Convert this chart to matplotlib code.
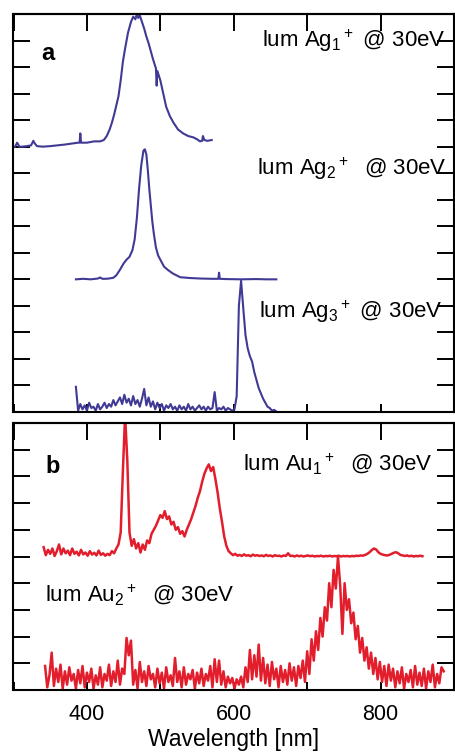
import numpy as np
import matplotlib.pyplot as plt

plt.rcParams['font.family'] = ['Liberation Sans', 'DejaVu Sans']
plt.rcParams['mathtext.default'] = 'regular'

# ---- panel a : silver clusters (offset traces, arb. units) ----
ag1_wl = [302, 305, 308, 312, 318, 324, 327, 329, 332, 340, 350, 360, 370, 380, 388,
          390, 391, 392, 400, 410, 418, 423, 427, 431, 434, 437, 440, 443, 446, 449,
          452, 456, 460, 463, 466, 468, 470, 472, 475, 478, 481, 484, 487, 490, 494,
          495, 496, 500, 504, 508, 513, 518, 524, 531, 538, 545, 550, 554, 557, 558,
          560, 564, 570]
ag1_int = [10.0, 10.15, 10.0, 10.0, 10.02, 10.05, 10.22, 10.12, 10.02, 10.0, 10.02, 10.05, 10.08, 10.12, 10.15,
           10.15, 10.5, 10.15, 10.15, 10.2, 10.2, 10.25, 10.4, 10.65, 10.9, 11.2, 11.55, 11.9, 12.5, 13.2,
           13.7, 14.3, 14.7, 14.9, 14.8, 15.0, 14.85, 14.95, 14.7, 14.45, 14.15, 13.9, 13.6, 13.3, 12.95,
           12.3, 12.85, 12.5, 12.0, 11.5, 11.15, 10.9, 10.65, 10.5, 10.4, 10.35, 10.28, 10.2, 10.22, 10.4,
           10.25, 10.22, 10.25]

ag2_wl = [385, 395, 405, 415, 418, 421, 425, 430, 436, 440, 445, 450, 454, 458, 462,
          465, 468, 471, 474, 477, 479, 481, 483, 485, 487, 489, 491, 494, 497, 500,
          505, 510, 517, 527, 540, 555, 570, 579, 580, 581, 590, 610, 630, 645, 658]
ag2_int = [5.0, 5.02, 5.0, 5.03, 5.07, 5.02, 5.02, 5.03, 5.06, 5.15, 5.36, 5.6, 5.74, 5.85, 6.1,
           6.5, 7.3, 8.4, 9.3, 9.85, 9.9, 9.7, 9.1, 8.4, 7.8, 7.2, 6.75, 6.2, 5.9, 5.74,
           5.48, 5.36, 5.22, 5.08, 5.05, 5.03, 5.02, 5.02, 5.25, 5.02, 5.01, 5.0, 5.01, 5.0, 5.0]

ag3_wl = np.arange(385, 659, 3)
ag3_int = [0.95, 0.05, 0.30, 0.10, 0.25, 0.05, 0.35, 0.15, 0.20, 0.05,   # 385
           0.30, 0.10, 0.20, 0.35, 0.15, 0.30, 0.20, 0.45, 0.25, 0.40,   # 415
           0.55, 0.30, 0.65, 0.35, 0.50, 0.25, 0.60, 0.30, 0.45, 0.20,   # 445
           0.50, 0.87, 0.25, 0.55, 0.20, 0.40, 0.10, 0.35, 0.15, 0.30,   # 475
           0.05, 0.25, 0.15, 0.30, 0.10, 0.20, 0.05, 0.25, 0.10, 0.20,   # 505
           0.05, 0.30, 0.10, 0.20, 0.05, 0.15, 0.25, 0.10, 0.20, 0.05,   # 535
           0.20, 0.10, 0.15, 0.75, 0.05, 0.15, 0.10, 0.20, 0.05, 0.15,   # 565
           0.10, 0.05, 0.10, 0.60, 4.00, 4.95, 3.90, 2.90, 2.40, 2.10,   # 595
           1.90, 1.50, 1.20, 0.90, 0.70, 0.50, 0.35, 0.20, 0.15, 0.05,   # 625
           0.08, 0.02]                                                   # 655

# ---- panel b : gold clusters ----
au1_wl = np.arange(341, 858, 3)
au1_int = [5.35, 5.05, 5.25, 5.10, 5.30, 5.02, 5.20, 5.45, 5.08, 5.30,   # 341
           5.12, 5.22, 5.05, 5.30, 5.10, 5.18, 5.04, 5.25, 5.08, 5.15,   # 371
           5.03, 5.20, 5.07, 5.14, 5.04, 5.22, 5.06, 5.12, 5.03, 5.10,   # 401
           5.05, 5.20, 5.12, 5.30, 5.45, 5.90, 8.20, 10.3, 8.60, 5.90,   # 431
           5.40, 5.65, 5.30, 5.50, 5.15, 5.45, 5.25, 5.60, 5.50, 5.85,   # 461
           6.00, 6.15, 6.35, 6.55, 6.45, 6.70, 6.40, 6.50, 6.20, 6.30,   # 491
           6.00, 6.10, 5.85, 5.95, 5.75, 6.00, 6.20, 6.40, 6.65, 6.90,   # 521
           7.20, 7.45, 7.80, 8.10, 8.30, 8.45, 8.20, 8.35, 7.90, 7.40,   # 551
           6.80, 6.30, 5.75, 5.40, 5.20, 5.12, 5.05, 5.10, 5.03, 5.06,   # 581
           5.02, 5.08, 5.03, 5.05, 5.01, 5.07, 5.03, 5.05, 5.02, 5.04,   # 611
           5.01, 5.06, 5.02, 5.04, 5.00, 5.05, 5.02, 5.03, 5.00, 5.04,   # 641
           5.02, 5.12, 5.02, 5.03, 5.00, 5.04, 5.01, 5.03, 5.00, 5.02,   # 671
           5.04, 5.01, 5.03, 5.00, 5.02, 5.01, 5.03, 5.00, 5.02, 5.01,   # 701
           5.03, 5.00, 5.02, 5.01, 5.03, 5.00, 5.02, 5.01, 5.02, 5.00,   # 731
           5.02, 5.01, 5.03, 5.02, 5.04, 5.03, 5.06, 5.10, 5.16, 5.24,   # 761
           5.30, 5.26, 5.16, 5.10, 5.07, 5.05, 5.04, 5.06, 5.10, 5.14,   # 791
           5.16, 5.12, 5.06, 5.04, 5.02, 5.04, 5.01, 5.03, 5.00, 5.02,   # 821
           5.01, 5.03, 5.01]                                             # 851

au2_wl = np.arange(343, 887, 3)
au2_int = [0.90, 0.10, 0.55, 1.40, 0.15, 0.80, 0.30, 0.95, 0.05, 0.70,   # 343
           0.20, 0.85, 0.35, 0.60, 0.05, 0.75, 0.25, 0.90, 0.10, 0.65,   # 373
           0.30, 0.80, 0.05, 0.55, 0.20, 0.85, 0.10, 0.60, 0.35, 0.95,   # 403
           0.15, 0.70, 0.30, 1.10, 0.20, 0.80, 0.60, 1.95, 1.30, 1.85,   # 433
           0.20, 0.75, 0.05, 1.05, 0.30, 0.70, 0.15, 0.90, 0.40, 0.60,   # 463
           0.10, 0.80, 0.25, 0.65, 0.05, 0.85, 0.30, 0.55, 0.15, 1.20,   # 493
           0.30, 0.70, 0.10, 0.85, 0.20, 0.60, 0.40, 0.75, 0.05, 0.65,   # 523
           0.25, 0.80, 0.15, 0.60, 0.35, 0.90, 0.10, 1.15, 0.30, 1.10,   # 553
           0.20, 0.70, 0.10, 0.50, 0.25, 0.45, 0.05, 0.40, 0.20, 0.50,   # 583
           0.10, 0.85, 0.30, 1.50, 0.40, 1.30, 0.50, 1.70, 0.35, 1.20,   # 613
           0.25, 0.95, 0.15, 1.05, 0.40, 0.80, 0.10, 0.90, 0.30, 0.75,   # 643
           0.20, 1.00, 0.35, 0.85, 0.15, 0.90, 0.45, 1.10, 0.30, 1.45,   # 673
           0.60, 1.90, 1.10, 2.20, 1.50, 2.70, 2.00, 3.10, 2.60, 4.00,   # 703
           3.10, 4.50, 3.80, 5.00, 3.90, 2.10, 4.00, 3.00, 3.40, 2.50,   # 733
           2.90, 1.90, 2.40, 1.40, 1.95, 1.10, 1.60, 0.80, 1.40, 0.60,   # 763
           1.20, 0.40, 1.05, 0.30, 0.90, 0.15, 0.95, 0.35, 0.80, 0.10,   # 793
           0.70, 0.25, 0.85, 0.05, 0.60, 0.30, 0.75, 0.10, 0.90, 0.20,   # 823
           0.65, 0.15, 0.80, 0.05, 0.70, 0.30, 0.95, 0.10, 0.60, 0.25,   # 853
           0.85, 0.70]                                                   # 883

ag_col = '#403a95'
au_col = '#e21d2c'

fig = plt.figure(figsize=(4.56, 7.55), dpi=100)
W, H = 456.0, 755.0
ax1 = fig.add_axes([13.5 / W, (H - 412) / H, (454 - 13.5) / W, (412 - 14) / H])
ax2 = fig.add_axes([13.5 / W, (H - 690) / H, (454 - 13.5) / W, (690 - 423) / H])

ax1.plot(ag1_wl, ag1_int, color=ag_col, lw=1.5)
ax1.plot(ag2_wl, ag2_int, color=ag_col, lw=1.5)
ax1.plot(ag3_wl, ag3_int, color=ag_col, lw=1.5)
ax2.plot(au1_wl, au1_int, color=au_col, lw=1.8)
ax2.plot(au2_wl, au2_int, color=au_col, lw=1.8)

ax1.set_ylim(0, 15)
ax2.set_ylim(0, 10)
ax1.set_yticks(range(0, 16))
ax2.set_yticks(range(0, 11))

for ax in (ax1, ax2):
    ax.set_xlim(300, 900)
    ax.set_xticks(range(300, 901, 100))
    ax.set_xticklabels(['', '400', '', '600', '', '800', ''])
    ax.set_yticklabels([])
    ax.tick_params(axis='y', direction='in', left=True, right=True, length=12, width=1.4)
    ax.tick_params(axis='x', direction='in', bottom=True, length=6, width=1.4,
                   labelsize=15.5, pad=10)
    for s in ax.spines.values():
        s.set_linewidth(1.5)
    top = ax.secondary_xaxis('top')
    top.set_xticks(range(300, 901, 100))
    top.set_xticklabels([])
    top.tick_params(direction='in', length=12, width=1.4)
    top.spines['top'].set_linewidth(1.5)

ax1.set_xticklabels([])
ax2.set_xlabel('Wavelength [nm]', fontsize=16.5, labelpad=2)

fs = 16
ax1.text(888, 13.77, r'lum Ag$_1{}^+$ @ 30eV', ha='right', va='baseline', fontsize=fs)
ax1.text(890, 8.93, r'lum Ag$_2{}^+$  @ 30eV', ha='right', va='baseline', fontsize=fs)
ax1.text(885, 3.54, r'lum Ag$_3{}^+$ @ 30eV', ha='right', va='baseline', fontsize=fs)
ax1.text(338, 13.27, 'a', fontsize=17, fontweight='bold', va='baseline')

ax2.text(871, 8.24, r'lum Au$_1{}^+$  @ 30eV', ha='right', va='baseline', fontsize=fs)
ax2.text(343, 3.31, r'lum Au$_2{}^+$  @ 30eV', ha='left', va='baseline', fontsize=fs)
ax2.text(343, 8.13, 'b', fontsize=17, fontweight='bold', va='baseline')

fig.savefig('out.png', dpi=100)
